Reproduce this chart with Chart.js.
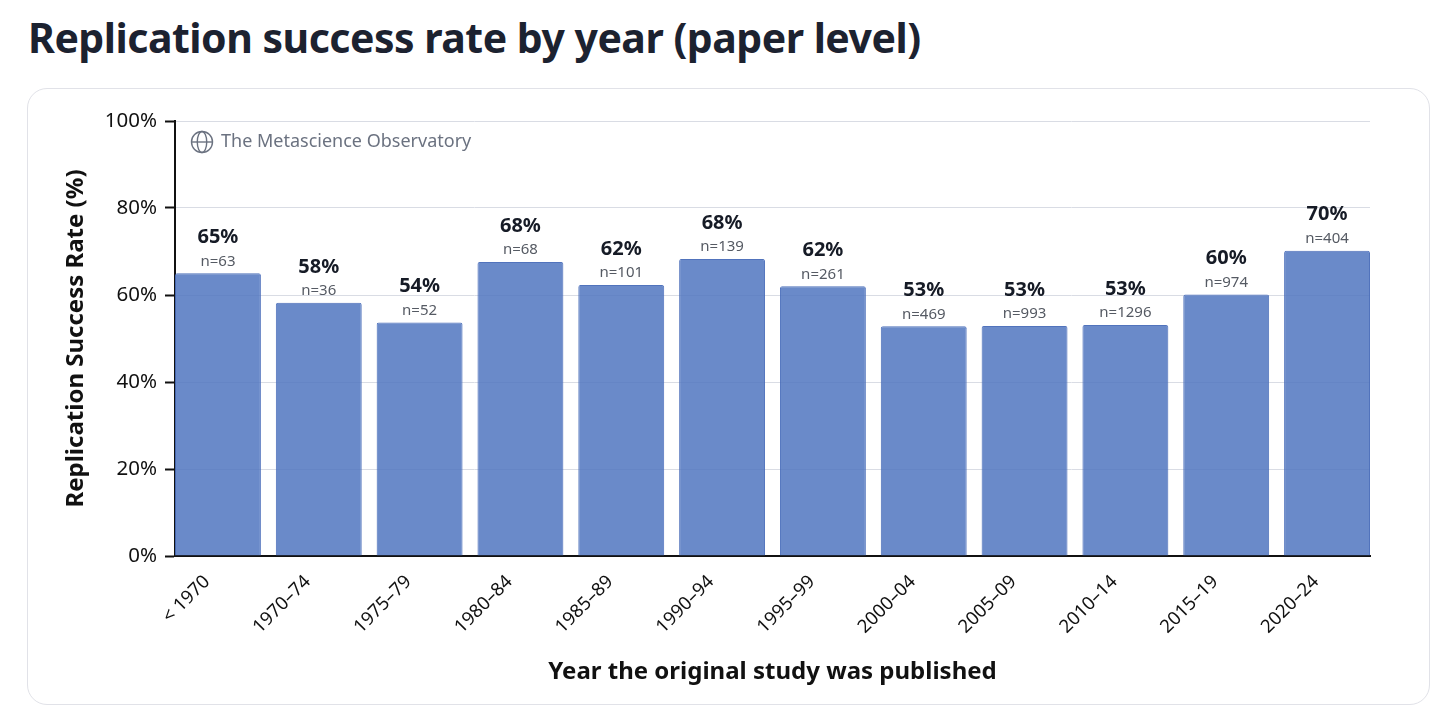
<!DOCTYPE html>
<html>
<head>
<meta charset="utf-8">
<script src="https://cdn.jsdelivr.net/npm/chart.js@4.4.1/dist/chart.umd.min.js"></script>
<style>
  html, body { margin: 0; padding: 0; background: #fff; }
  body { width: 1456px; height: 726px; position: relative; overflow: hidden; font-family: "Noto Sans", sans-serif; }
  h1 { position: absolute; left: 28px; top: 9px; margin: 0; font-size: 41px; font-weight: 700; color: #1c2230; letter-spacing: -0.5px; }
  .card { position: absolute; left: 27px; top: 88px; width: 1401px; height: 615px; border: 1.5px solid #e1e2e8; border-radius: 20px; }
  canvas { position: absolute; left: 0; top: 0; }
</style>
</head>
<body>
<h1>Replication success rate by year (paper level)</h1>
<div class="card"><canvas id="yearChart" width="1401" height="615"></canvas></div>
<script>
// Datos
const periods = ['< 1970', '1970–74', '1975–79', '1980–84', '1985–89', '1990–94', '1995–99', '2000–04', '2005–09', '2010–14', '2015–19', '2020–24'];
const successRate = [65.0, 58.2, 53.7, 67.6, 62.3, 68.3, 62.0, 52.8, 52.9, 53.1, 60.1, 70.2];
const sampleSize = [63, 36, 52, 68, 101, 139, 261, 469, 993, 1296, 974, 404];
const yTicks = [0, 20, 40, 60, 80, 100];

const fontFamily = '"Noto Sans", sans-serif';

// Etiquetas encima de cada barra (porcentaje + n)
const barLabels = {
    id: 'barLabels',
    afterDatasetsDraw(chart) {
        const ctx = chart.ctx;
        const meta = chart.getDatasetMeta(0);
        ctx.save();
        ctx.textAlign = 'center';
        ctx.textBaseline = 'middle';
        meta.data.forEach(function(bar, i) {
            ctx.fillStyle = '#161b26';
            ctx.font = 'bold 20px ' + fontFamily;
            ctx.fillText(Math.round(successRate[i]) + '%', bar.x, bar.y - 36);
            ctx.fillStyle = '#555a63';
            ctx.font = '15px ' + fontFamily;
            ctx.fillText('n=' + sampleSize[i], bar.x, bar.y - 12);
        });
        ctx.restore();
    }
};

// Marca de agua con icono de globo
const watermark = {
    id: 'watermark',
    afterDraw(chart) {
        const ctx = chart.ctx;
        const area = chart.chartArea;
        const cx = area.left + 27, cy = area.top + 21, r = 10.5;
        ctx.save();
        ctx.strokeStyle = '#6b7280';
        ctx.lineWidth = 1.4;
        ctx.beginPath();
        ctx.arc(cx, cy, r, 0, Math.PI * 2);
        ctx.stroke();
        ctx.beginPath();
        ctx.ellipse(cx, cy, r * 0.45, r, 0, 0, Math.PI * 2);
        ctx.stroke();
        ctx.beginPath();
        ctx.moveTo(cx - r, cy);
        ctx.lineTo(cx + r, cy);
        ctx.stroke();
        ctx.fillStyle = '#6b7280';
        ctx.font = '18px ' + fontFamily;
        ctx.textAlign = 'left';
        ctx.textBaseline = 'middle';
        ctx.fillText('The Metascience Observatory', cx + 19, cy);
        ctx.restore();
    }
};

document.addEventListener('DOMContentLoaded', function() {
    const ctx = document.getElementById('yearChart').getContext('2d');
    const half = 0.426;

    new Chart(ctx, {
        type: 'bar',
        data: {
            datasets: [{
                data: successRate.map(function(v, i) { return { x: i, y: v }; }),
                backgroundColor: 'rgba(80, 118, 192, 0.85)',
                borderColor: 'rgba(72, 108, 184, 0.95)',
                borderWidth: 1,
                borderRadius: 2,
                borderSkipped: 'bottom',
                categoryPercentage: 1,
                barPercentage: 0.852
            }]
        },
        options: {
            responsive: false,
            animation: false,
            layout: { padding: { left: 0, top: 32, right: 59, bottom: 0 } },
            plugins: { legend: { display: false }, tooltip: { enabled: false } },
            scales: {
                x: {
                    type: 'linear',
                    offset: false,
                    min: -half,
                    max: periods.length - 1 + half,
                    afterFit: function(scale) { scale.height = 148; },
                    grid: { display: false, offset: false },
                    border: { display: true, color: '#111', width: 2 },
                    ticks: {
                        stepSize: 1,
                        includeBounds: false,
                        autoSkip: false,
                        minRotation: 45,
                        maxRotation: 45,
                        padding: 7,
                        labelOffset: -11,
                        color: '#111',
                        font: { family: fontFamily, size: 18.5 },
                        callback: function(v) { return Number.isInteger(v) ? periods[v] : ''; }
                    },
                    title: {
                        display: true,
                        text: 'Year the original study was published',
                        color: '#111',
                        font: { family: fontFamily, size: 24, weight: 'bold' },
                        padding: { top: 0, bottom: 17 }
                    }
                },
                y: {
                    min: 0,
                    max: 100,
                    afterFit: function(scale) { scale.width = 147; },
                    afterBuildTicks: function(scale) { scale.ticks = yTicks.map(function(v) { return { value: v }; }); },
                    grid: { color: '#d9dce4', lineWidth: 1, tickColor: '#111', tickLength: 10, tickWidth: 2 },
                    border: { display: true, color: '#111', width: 2 },
                    ticks: {
                        padding: 8,
                        color: '#111',
                        font: { family: fontFamily, size: 20.5 },
                        callback: function(v) { return v + '%'; }
                    },
                    title: {
                        display: true,
                        text: 'Replication Success Rate (%)',
                        color: '#111',
                        font: { family: fontFamily, size: 24, weight: 'bold' },
                        padding: { top: 34, bottom: 0 }
                    }
                }
            }
        },
        plugins: [barLabels, watermark]
    });
});
</script>
</body>
</html>
